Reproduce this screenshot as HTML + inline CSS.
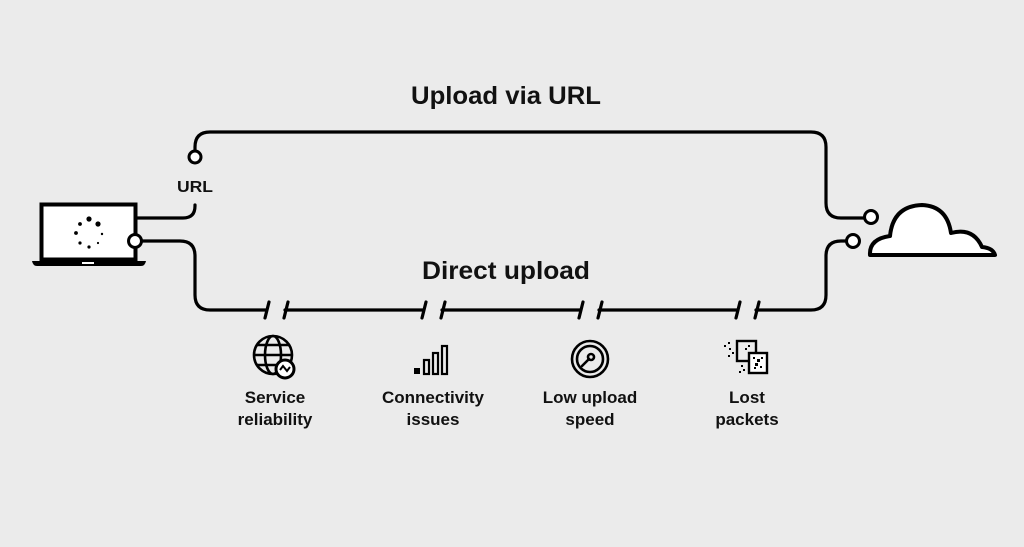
<!DOCTYPE html>
<html><head><meta charset="utf-8"><style>
html,body{margin:0;padding:0;background:#ebebeb;}
svg{display:block;}
text{font-family:"Liberation Sans",sans-serif;fill:#111;}
</style></head><body>
<svg width="1024" height="547" viewBox="0 0 1024 547" xmlns="http://www.w3.org/2000/svg">
<rect width="1024" height="547" fill="#ebebeb"/>
<g fill="none" stroke="#000" stroke-width="3.2" stroke-linecap="round">
  <path d="M195 151 V147 Q195 132 210 132 H811 Q826 132 826 147 V203 Q826 218 841 218 H865"/>
  <path d="M137 218 H183 Q195 218 195 206 V205"/>
  <path d="M141 241 H180 Q195 241 195 256 V295 Q195 310 210 310 H266"/>
  <path d="M285 310 H423"/>
  <path d="M442 310 H580"/>
  <path d="M599 310 H737"/>
  <path d="M756 310 H811 Q826 310 826 295 V256 Q826 241 841 241 H847"/>
  <path d="M269 302 L265 318 M288 302 L284 318"/>
  <path d="M426 302 L422 318 M445 302 L441 318"/>
  <path d="M583 302 L579 318 M602 302 L598 318"/>
  <path d="M740 302 L736 318 M759 302 L755 318"/>
</g>
<g fill="#fff" stroke="#000" stroke-width="3">
  <circle cx="195" cy="157" r="6"/>
  <circle cx="871" cy="217" r="6.5"/>
  <circle cx="853" cy="241" r="6.5"/>
</g>
<rect x="41.5" y="204.5" width="94" height="55" fill="#fff" stroke="#000" stroke-width="4"/>
<circle cx="135" cy="241" r="6.5" fill="#fff" stroke="#000" stroke-width="3"/>
<path d="M32 261 H146 Q145 266 141 266 H37 Q33 266 32 261 Z" fill="#000"/>
<rect x="82" y="262" width="12" height="2" fill="#fff"/>
<g fill="#000">
  <circle cx="89" cy="219" r="2.6"/><circle cx="98" cy="224" r="2.6"/>
  <circle cx="80" cy="224" r="1.9"/><circle cx="76" cy="233" r="1.9"/>
  <circle cx="102" cy="234" r="1.2"/><circle cx="80" cy="243" r="1.6"/>
  <circle cx="89" cy="247" r="1.6"/><circle cx="98" cy="243" r="1.1"/>
</g>
<path d="M870 255 Q869 239 890 236 Q893 206 922 205 Q947 206 951 233 Q973 227 982 247 Q993 248 995 255 Z" fill="#fff" stroke="#000" stroke-width="4" stroke-linejoin="round"/>
<text x="506" y="104" font-size="25" font-weight="bold" text-anchor="middle" textLength="190" lengthAdjust="spacingAndGlyphs">Upload via URL</text>
<text x="506" y="279" font-size="25" font-weight="bold" text-anchor="middle" textLength="168" lengthAdjust="spacingAndGlyphs">Direct upload</text>
<text x="195" y="192" font-size="16" text-anchor="middle" font-weight="bold" textLength="36" lengthAdjust="spacingAndGlyphs">URL</text>
<g fill="none" stroke="#000" stroke-width="2.6">
  <circle cx="273" cy="355" r="19"/>
  <ellipse cx="273" cy="355" rx="8" ry="19"/>
  <path d="M254 355 H292 M257 345 H289 M257 365 H289"/>
</g>
<circle cx="285" cy="369" r="9" fill="#fff" stroke="#000" stroke-width="3"/>
<path d="M280 370 L283 366 L287 371 L290 367" fill="none" stroke="#000" stroke-width="2"/>
<rect x="414" y="368" width="6" height="6" fill="#000"/>
<g fill="none" stroke="#000" stroke-width="2.2">
  <rect x="424" y="360" width="5" height="14"/>
  <rect x="433" y="353" width="5" height="21"/>
  <rect x="442" y="346" width="5" height="28"/>
</g>
<g fill="none" stroke="#000" stroke-width="2.6">
  <circle cx="590" cy="359" r="18"/>
  <circle cx="590" cy="359" r="13"/>
  <circle cx="591" cy="357" r="3"/>
  <path d="M589 359 L582 366" stroke-linecap="round"/>
</g>
<g fill="none" stroke="#000" stroke-width="2.4">
  <rect x="737" y="341" width="19" height="20" fill="#ebebeb"/>
  <rect x="749" y="353" width="18" height="20" fill="#fff"/>
</g>
<g fill="#000">
  <rect x="724" y="345" width="2" height="2"/><rect x="728" y="342" width="2" height="2"/><rect x="729" y="348" width="2" height="2"/><rect x="732" y="352" width="2" height="2"/><rect x="728" y="355" width="2" height="2"/>
  <rect x="745" y="348" width="2" height="2"/><rect x="748" y="345" width="2" height="2"/>
  <rect x="741" y="365" width="2" height="2"/><rect x="743" y="369" width="2" height="2"/><rect x="739" y="371" width="2" height="2"/>
  <rect x="753" y="357" width="2" height="2"/><rect x="757" y="359" width="3" height="3"/><rect x="761" y="357" width="2" height="2"/><rect x="755" y="363" width="3" height="3"/><rect x="760" y="366" width="2" height="2"/><rect x="754" y="367" width="2" height="2"/>
</g>
<g font-size="17" text-anchor="middle" style="font-weight:600">
  <text x="275" y="403">Service</text><text x="275" y="425">reliability</text>
  <text x="433" y="403">Connectivity</text><text x="433" y="425">issues</text>
  <text x="590" y="403">Low upload</text><text x="590" y="425">speed</text>
  <text x="747" y="403">Lost</text><text x="747" y="425">packets</text>
</g>
</svg>
</body></html>
